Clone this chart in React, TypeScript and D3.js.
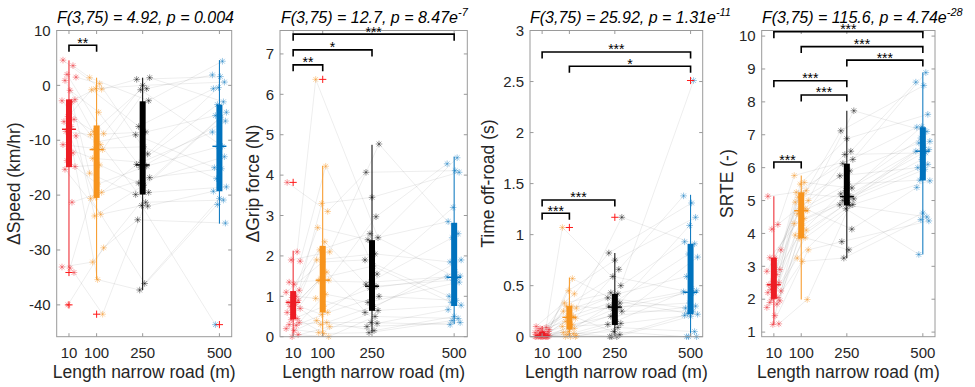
import * as d3 from "d3";

const GROUPS = [10, 100, 250, 500];
const X_TICKS = [10, 100, 250, 500];

// per-subject values, 26 subjects per road length
const SPEED_10 = [4.6, 3.6, 2.0, 1.5, 0.9, -0.9, -2.6, -2.8, -3.0, -5.7, -6.2, -6.6, -7.5, -8.4, -9.2, -10.8, -11.6, -12.3, -13.7, -14.8, -15.3, -21.3, -33.1, -33.3, -34.1, -40.0];
const SPEED_100 = [1.4, 0.3, -0.6, -0.7, -0.8, -4.9, -8.4, -8.8, -9.0, -10.3, -10.8, -11.5, -11.7, -13.3, -14.5, -16.0, -18.0, -19.5, -20.4, -20.6, -23.5, -23.8, -29.6, -32.2, -35.4, -41.7];
const SPEED_250 = [1.4, 1.1, 0.0, -0.6, -0.8, -2.8, -7.5, -8.5, -9.0, -11.2, -12.5, -14.0, -14.4, -14.7, -15.0, -16.8, -17.8, -18.2, -19.5, -19.9, -21.3, -21.9, -22.0, -24.5, -36.1, -37.3];
const SPEED_500 = [4.4, 1.9, 1.6, 0.6, -0.4, -0.6, -3.0, -3.5, -4.9, -5.5, -5.8, -6.5, -8.5, -11.1, -11.2, -13.0, -15.0, -15.2, -17.0, -18.5, -19.3, -20.6, -20.9, -21.7, -25.1, -43.6];

const GRIP_10 = [3.82, 2.1, 1.9, 1.87, 1.35, 1.3, 1.15, 1.1, 1.0, 0.97, 0.9, 0.85, 0.8, 0.75, 0.7, 0.6, 0.55, 0.45, 0.42, 0.35, 0.3, 0.28, 0.2, 0.15, 0.05, 0.0];
const GRIP_100 = [6.37, 4.22, 3.3, 3.1, 2.7, 2.35, 2.15, 2.1, 1.9, 1.85, 1.6, 1.45, 1.4, 1.38, 1.05, 0.95, 0.75, 0.6, 0.55, 0.4, 0.35, 0.3, 0.25, 0.1, 0.08, 0.0];
const GRIP_250 = [4.77, 4.07, 3.45, 2.97, 2.55, 2.45, 2.4, 2.05, 1.9, 1.75, 1.55, 1.35, 1.3, 1.25, 1.2, 1.0, 0.85, 0.75, 0.65, 0.6, 0.5, 0.35, 0.33, 0.25, 0.15, 0.1];
const GRIP_500 = [4.43, 4.28, 4.11, 4.07, 3.2, 2.85, 2.55, 2.45, 1.9, 1.85, 1.6, 1.5, 1.48, 1.45, 1.4, 1.35, 1.0, 0.9, 0.85, 0.78, 0.67, 0.5, 0.45, 0.4, 0.35, 0.3];

const OFFROAD_10 = [0.1, 0.09, 0.08, 0.07, 0.06, 0.05, 0.05, 0.04, 0.03, 0.03, 0.02, 0.02, 0.01, 0.01, 0.01, 0, 0, 0, 0, 0, 0, 0, 0, 0, 0, 0];
const OFFROAD_100 = [1.07, 0.57, 0.45, 0.42, 0.33, 0.3, 0.3, 0.28, 0.25, 0.22, 0.2, 0.19, 0.18, 0.15, 0.12, 0.1, 0.09, 0.08, 0.05, 0.04, 0.03, 0.02, 0.01, 0, 0, 0];
const OFFROAD_250 = [1.17, 0.82, 0.75, 0.66, 0.59, 0.5, 0.43, 0.42, 0.38, 0.35, 0.33, 0.31, 0.3, 0.29, 0.27, 0.25, 0.2, 0.15, 0.13, 0.12, 0.09, 0.05, 0.02, 0, 0, 0];
const OFFROAD_500 = [2.51, 1.38, 1.31, 1.17, 1.09, 0.93, 0.91, 0.81, 0.78, 0.59, 0.47, 0.45, 0.44, 0.43, 0.33, 0.3, 0.28, 0.25, 0.23, 0.22, 0.21, 0.2, 0.05, 0, 0, 0];

const SRTE_10 = [5.13, 4.27, 4.13, 3.5, 3.26, 3.25, 2.9, 2.85, 2.75, 2.55, 2.5, 2.44, 2.4, 2.3, 2.25, 2.2, 2.1, 2.05, 2.0, 1.95, 1.9, 1.85, 1.75, 1.5, 1.25, 1.23];
const SRTE_100 = [5.76, 5.55, 5.5, 5.3, 5.25, 5.2, 5.1, 5.0, 4.95, 4.8, 4.75, 4.7, 4.69, 4.6, 4.45, 4.3, 4.25, 4.1, 4.0, 3.95, 3.87, 3.85, 3.5, 3.25, 3.15, 1.99];
const SRTE_250 = [7.73, 7.12, 6.88, 6.5, 6.4, 6.25, 6.12, 5.9, 5.75, 5.5, 5.38, 5.3, 5.2, 5.12, 5.1, 5.05, 5.0, 4.95, 4.88, 4.87, 4.85, 4.75, 4.13, 3.75, 3.5, 3.25];
const SRTE_500 = [8.89, 8.6, 8.5, 7.62, 7.25, 7.23, 7.1, 6.9, 6.8, 6.75, 6.62, 6.55, 6.5, 6.45, 6.25, 6.1, 6.0, 5.95, 5.62, 5.6, 5.4, 4.62, 4.5, 4.42, 4.38, 3.36];

// which entry of each group belongs to subject s
const SUBJECT_ORDER = [
  [0, 1, 2, 3, 4, 5, 6, 7, 8, 9, 10, 11, 12, 13, 14, 15, 16, 17, 18, 19, 20, 21, 22, 23, 24, 25],
  [3, 0, 7, 1, 12, 5, 2, 9, 15, 4, 6, 18, 10, 8, 21, 11, 13, 24, 16, 14, 20, 17, 23, 19, 25, 22],
  [1, 5, 0, 10, 3, 14, 2, 8, 19, 6, 4, 12, 22, 7, 17, 9, 11, 25, 13, 16, 21, 15, 18, 24, 20, 23],
  [2, 0, 6, 4, 1, 11, 3, 16, 8, 5, 13, 7, 20, 9, 10, 18, 12, 23, 14, 15, 25, 17, 19, 21, 22, 24],
];

// box stats: whisker low, q1, median, q3, whisker high
const SPEED_BOX = [
  { lo: -33.3, q1: -14.9, med: -8.0, q3: -2.55, hi: 4.56 },
  { lo: -35.4, q1: -20.5, med: -11.7, q3: -7.3, hi: 1.4 },
  { lo: -37.3, q1: -19.9, med: -14.5, q3: -2.9, hi: 1.4 },
  { lo: -25.2, q1: -19.3, med: -11.1, q3: -3.5, hi: 4.6 },
];
const GRIP_BOX = [
  { lo: 0, q1: 0.43, med: 0.85, q3: 1.13, hi: 2.13 },
  { lo: 0, q1: 0.6, med: 1.4, q3: 2.25, hi: 4.23 },
  { lo: 0.1, q1: 0.64, med: 1.25, q3: 2.39, hi: 4.75 },
  { lo: 0.31, q1: 0.76, med: 1.47, q3: 2.82, hi: 4.46 },
];
const OFFROAD_BOX = [
  { lo: 0, q1: 0, med: 0.01, q3: 0.05, hi: 0.105 },
  { lo: 0, q1: 0.07, med: 0.19, q3: 0.3, hi: 0.58 },
  { lo: 0, q1: 0.115, med: 0.29, q3: 0.42, hi: 0.82 },
  { lo: 0, q1: 0.22, med: 0.435, q3: 0.91, hi: 1.39 },
];
const SRTE_BOX = [
  { lo: 1.23, q1: 2.01, med: 2.44, q3: 3.26, hi: 5.13 },
  { lo: 1.99, q1: 3.85, med: 4.69, q3: 5.25, hi: 5.76 },
  { lo: 3.25, q1: 4.85, med: 5.12, q3: 6.12, hi: 7.73 },
  { lo: 3.36, q1: 5.61, med: 6.5, q3: 7.23, hi: 8.89 },
];

const SPEED_OUTLIERS = [{ g: 10, v: -34.1 }, { g: 10, v: -40.0 }, { g: 100, v: -41.7 }, { g: 500, v: -43.6 }];
const GRIP_OUTLIERS = [{ g: 10, v: 3.82 }, { g: 100, v: 6.37 }];
const OFFROAD_OUTLIERS = [{ g: 100, v: 1.07 }, { g: 250, v: 1.17 }, { g: 500, v: 2.51 }];
const SRTE_OUTLIERS: { g: number; v: number }[] = [];

const SPEED_SIG = [{ a: 10, b: 100, y: 7.3, label: "**" }];
const GRIP_SIG = [
  { a: 10, b: 500, y: 7.49, label: "***" },
  { a: 10, b: 250, y: 7.1, label: "*" },
  { a: 10, b: 100, y: 6.73, label: "**" },
];
const OFFROAD_SIG = [
  { a: 10, b: 500, y: 2.79, label: "***" },
  { a: 100, b: 500, y: 2.65, label: "*" },
  { a: 10, b: 250, y: 1.34, label: "***" },
  { a: 10, b: 100, y: 1.21, label: "***" },
];
const SRTE_SIG = [
  { a: 10, b: 500, y: 10.13, label: "***" },
  { a: 100, b: 500, y: 9.68, label: "***" },
  { a: 250, b: 500, y: 9.27, label: "***" },
  { a: 10, b: 250, y: 8.64, label: "***" },
  { a: 100, b: 250, y: 8.21, label: "***" },
  { a: 10, b: 100, y: 6.17, label: "***" },
];

const SPEED_TICKS = [10, 0, -10, -20, -30, -40];
const GRIP_TICKS = [0, 1, 2, 3, 4, 5, 6, 7];
const OFFROAD_TICKS = [0, 0.5, 1, 1.5, 2, 2.5, 3];
const SRTE_TICKS = [1, 2, 3, 4, 5, 6, 7, 8, 9, 10];

const PANELS = [
  { title: "F(3,75) = 4.92, p = 0.004", exp: "", yLabel: "ΔSpeed (km/hr)", yDomain: [-45.8, 10], ticks: SPEED_TICKS, groups: [SPEED_10, SPEED_100, SPEED_250, SPEED_500], box: SPEED_BOX, outliers: SPEED_OUTLIERS, sig: SPEED_SIG },
  { title: "F(3,75) = 12.7, p = 8.47e", exp: "-7", yLabel: "ΔGrip force (N)", yDomain: [0, 7.58], ticks: GRIP_TICKS, groups: [GRIP_10, GRIP_100, GRIP_250, GRIP_500], box: GRIP_BOX, outliers: GRIP_OUTLIERS, sig: GRIP_SIG },
  { title: "F(3,75) = 25.92, p = 1.31e", exp: "-11", yLabel: "Time off-road (s)", yDomain: [0, 3], ticks: OFFROAD_TICKS, groups: [OFFROAD_10, OFFROAD_100, OFFROAD_250, OFFROAD_500], box: OFFROAD_BOX, outliers: OFFROAD_OUTLIERS, sig: OFFROAD_SIG },
  { title: "F(3,75) = 115.6, p = 4.74e", exp: "-28", yLabel: "SRTE (-)", yDomain: [0.86, 10.17], ticks: SRTE_TICKS, groups: [SRTE_10, SRTE_100, SRTE_250, SRTE_500], box: SRTE_BOX, outliers: SRTE_OUTLIERS, sig: SRTE_SIG },
];

const WIDTH = 975;
const HEIGHT = 387;
const TOP = 30.5;
const BOTTOM = 336.7;
const PANEL_X = [[56.7, 231.7], [280, 467.3], [530, 702.7], [761.7, 935]];
const YLABEL_X = [14, 253, 488, 727];
const TITLE_LEFT = [57, 281, 530, 762];
const X_DOMAIN = [-30, 540];
const JITTER = [-6, 4, -2, 7, -4, 1, 6, -7, 3, -1, 5, -5, 2, -3, 7, -6, 0, 4, -2, 6, -4, 3, -7, 1, 5, -1];

const FONT = "'Liberation Sans', Arial, Helvetica, sans-serif";
const TEXT_COLOR = "#262626";
const AXIS_COLOR = "#9a9a9a";
const BOX_COLORS = ["#ED1C24", "#F7941D", "#000000", "#0072BD"];
const OUTLIER_COLOR = "#ff1a1a";
const TICK_LEN = 3.5;

const STAR = (r: number) => {
  const d = r * 0.72;
  return `M${-r},0H${r}M0,${-r}V${r}M${-d},${-d}L${d},${d}M${-d},${d}L${d},${-d}`;
};
const PLUS = (r: number) => `M${-r},0H${r}M0,${-r}V${r}`;

function Panel({ p, i }: { p: (typeof PANELS)[number]; i: number }) {
  const [left, right] = PANEL_X[i];
  const x = d3.scaleLinear().domain(X_DOMAIN).range([left, right]);
  const y = d3.scaleLinear().domain(p.yDomain).range([BOTTOM, TOP]);
  const jx = (g: number, k: number) => x(GROUPS[g]) + JITTER[(k + g * 7) % JITTER.length];

  const links: string[] = [];
  for (let s = 0; s < 26; s++) {
    const pts = GROUPS.map((_, g) => {
      const k = SUBJECT_ORDER[g][s];
      return [jx(g, k), y(p.groups[g][k])] as [number, number];
    });
    links.push(d3.line()(pts) as string);
  }

  const cx = (left + right) / 2;

  return (
    <g>
      {/* subject lines */}
      {links.map((d, s) => (
        <path key={s} d={d} fill="none" stroke="#000" strokeOpacity={0.09} strokeWidth={0.8} />
      ))}
      {/* individual values */}
      {p.groups.map((vals, g) =>
        vals.map((v, k) => (
          <path
            key={`${g}-${k}`}
            d={STAR(3.3)}
            transform={`translate(${jx(g, k)},${y(v)})`}
            stroke={BOX_COLORS[g]}
            strokeOpacity={0.4}
            strokeWidth={1}
            fill="none"
          />
        ))
      )}
      {/* boxes */}
      {p.box.map((b, g) => {
        const gx = x(GROUPS[g]);
        return (
          <g key={g}>
            <line x1={gx} x2={gx} y1={y(b.lo)} y2={y(b.hi)} stroke={BOX_COLORS[g]} strokeWidth={1} />
            <rect x={gx - 3} width={6} y={y(b.q3)} height={Math.max(0.8, y(b.q1) - y(b.q3))} fill={BOX_COLORS[g]} />
            <line x1={gx - 7} x2={gx + 7} y1={y(b.med)} y2={y(b.med)} stroke={BOX_COLORS[g]} strokeWidth={1.4} />
          </g>
        );
      })}
      {p.outliers.map((o, k) => (
        <path
          key={k}
          d={PLUS(3.6)}
          transform={`translate(${x(o.g)},${y(o.v)})`}
          stroke={OUTLIER_COLOR}
          strokeWidth={1}
        />
      ))}
      {/* axes box */}
      <rect x={left} y={TOP} width={right - left} height={BOTTOM - TOP} fill="none" stroke={AXIS_COLOR} strokeWidth={1} />
      {X_TICKS.map((t) => (
        <g key={t}>
          <line x1={x(t)} x2={x(t)} y1={BOTTOM} y2={BOTTOM - TICK_LEN} stroke={AXIS_COLOR} />
          <line x1={x(t)} x2={x(t)} y1={TOP} y2={TOP + TICK_LEN} stroke={AXIS_COLOR} />
          <text x={x(t)} y={357.5} textAnchor="middle" fontSize={15} fill={TEXT_COLOR}>
            {t}
          </text>
        </g>
      ))}
      {p.ticks.map((t) => (
        <g key={t}>
          <line x1={left} x2={left + TICK_LEN} y1={y(t)} y2={y(t)} stroke={AXIS_COLOR} />
          <line x1={right} x2={right - TICK_LEN} y1={y(t)} y2={y(t)} stroke={AXIS_COLOR} />
          <text x={left - 6} y={y(t)} dy="0.35em" textAnchor="end" fontSize={15} fill={TEXT_COLOR}>
            {String(t)}
          </text>
        </g>
      ))}
      {/* significance brackets */}
      {p.sig.map((s, k) => {
        const x1 = x(s.a);
        const x2 = x(s.b);
        const yy = y(s.y);
        return (
          <g key={k}>
            <path d={`M${x1},${yy + 6.5}V${yy}H${x2}V${yy + 6.5}`} fill="none" stroke="#000" strokeWidth={1.6} />
            <text x={(x1 + x2) / 2} y={yy + 2.5} textAnchor="middle" fontSize={14} fill="#000">
              {s.label}
            </text>
          </g>
        );
      })}
      <text x={TITLE_LEFT[i]} y={22.5} textAnchor="start" fontSize={16} fontStyle="italic" fill="#000">
        {p.title}
        {p.exp && (
          <tspan fontSize={11} dy={-7}>
            {p.exp}
          </tspan>
        )}
      </text>
      <text
        transform={`translate(${YLABEL_X[i]},${(TOP + BOTTOM) / 2}) rotate(-90)`}
        textAnchor="middle"
        dy="0.35em"
        fontSize={17.5}
        fill={TEXT_COLOR}
      >
        {p.yLabel}
      </text>
      <text x={cx} y={377.5} textAnchor="middle" fontSize={17.5} fill={TEXT_COLOR}>
        Length narrow road (m)
      </text>
    </g>
  );
}

export default function App() {
  return (
    <svg
      width={WIDTH}
      height={HEIGHT}
      style={{ position: "absolute", left: 0, top: 0, background: "#fff" }}
      fontFamily={FONT}
    >
      <rect width={WIDTH} height={HEIGHT} fill="#fff" />
      {PANELS.map((p, i) => (
        <Panel key={i} p={p} i={i} />
      ))}
    </svg>
  );
}
